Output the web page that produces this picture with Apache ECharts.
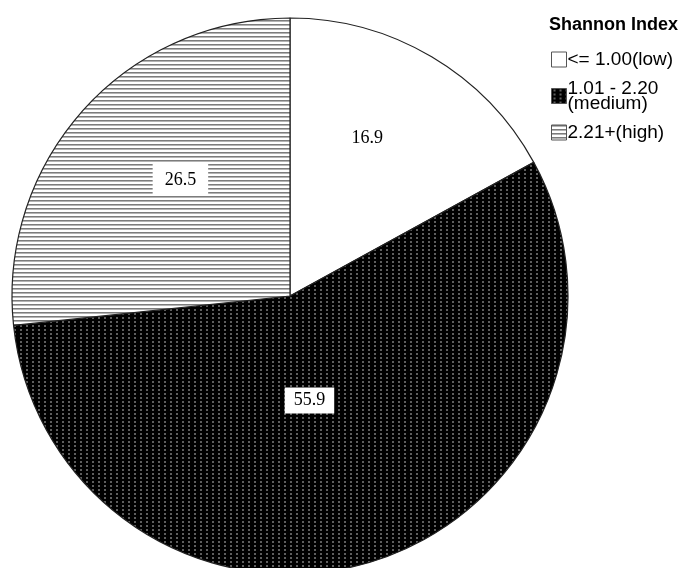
<!DOCTYPE html>
<html>
<head>
<meta charset="utf-8">
<script src="https://cdn.jsdelivr.net/npm/echarts@6/dist/echarts.min.js"></script>
<style>
  html, body { margin: 0; padding: 0; background: #fff; }
  #chart { width: 684px; height: 568px; }
</style>
</head>
<body>
<div id="chart"></div>
<script>
// Shannon index groups, percentages
const categories = ['<= 1.00(low)', '1.01 - 2.20\n(medium)', '2.21+(high)']
const values = [16.9, 55.9, 26.5]
const legendTitle = 'Shannon Index'

// small tiled fills to mimic the print patterns
const makePattern = (w, h, draw) => {
  const c = document.createElement('canvas')
  c.width = w
  c.height = h
  draw(c.getContext('2d'))
  return { image: c, repeat: 'repeat' }
}

const whiteFill = '#ffffff'
const dotFill = makePattern(6, 4, (ctx) => {
  ctx.fillStyle = '#000'
  ctx.fillRect(0, 0, 6, 4)
  ctx.fillStyle = '#5e5e5e'
  ctx.fillRect(2, 1, 2, 2)
})
const stripeFill = makePattern(4, 4, (ctx) => {
  ctx.fillStyle = '#fff'
  ctx.fillRect(0, 0, 4, 4)
  ctx.fillStyle = '#7c7c7c'
  ctx.fillRect(0, 0, 4, 1)
  ctx.fillStyle = '#b4b4b4'
  ctx.fillRect(0, 1, 4, 1)
})
const fills = [whiteFill, dotFill, stripeFill]
// nudges so labels sit roughly where the original placed them
const labelOffsets = [[5, -36], [-23, -31], [-4, -21]]
const labelPads = [[4, 9], [4, 9], [7, 12]]

const chart = echarts.init(document.getElementById('chart'))

const option = {
  animation: false,
  title: {
    text: legendTitle,
    left: 544,
    top: 11,
    textStyle: {
      fontFamily: 'Liberation Sans',
      fontSize: 18,
      fontWeight: 'bold',
      color: '#000',
    },
  },
  legend: {
    orient: 'vertical',
    left: 546,
    top: 45,
    itemWidth: 15,
    itemHeight: 15,
    itemGap: 10,
    icon: 'rect',
    data: categories,
    itemStyle: {
      borderColor: '#555',
      borderWidth: 1,
    },
    textStyle: {
      fontFamily: 'Liberation Sans',
      fontSize: 19,
      lineHeight: 15,
      color: '#000',
      padding: [0, 0, 0, -4],
    },
  },
  series: [
    {
      type: 'pie',
      center: [290, 296],
      radius: 278,
      startAngle: 90,
      clockwise: true,
      silent: true,
      itemStyle: {
        borderColor: '#222',
        borderWidth: 1.2,
      },
      labelLine: { show: false },
      label: {
        show: true,
        position: 'inside',
        formatter: (p) => p.value.toFixed(1),
        fontFamily: 'Liberation Serif',
        fontSize: 18,
        color: '#000',
        backgroundColor: '#fff',
      },
      data: categories.map((name, i) => ({
        name,
        value: values[i],
        itemStyle: { color: fills[i] },
        label: { offset: labelOffsets[i], padding: labelPads[i] },
      })),
    },
  ],
}

chart.setOption(option)
</script>
</body>
</html>
